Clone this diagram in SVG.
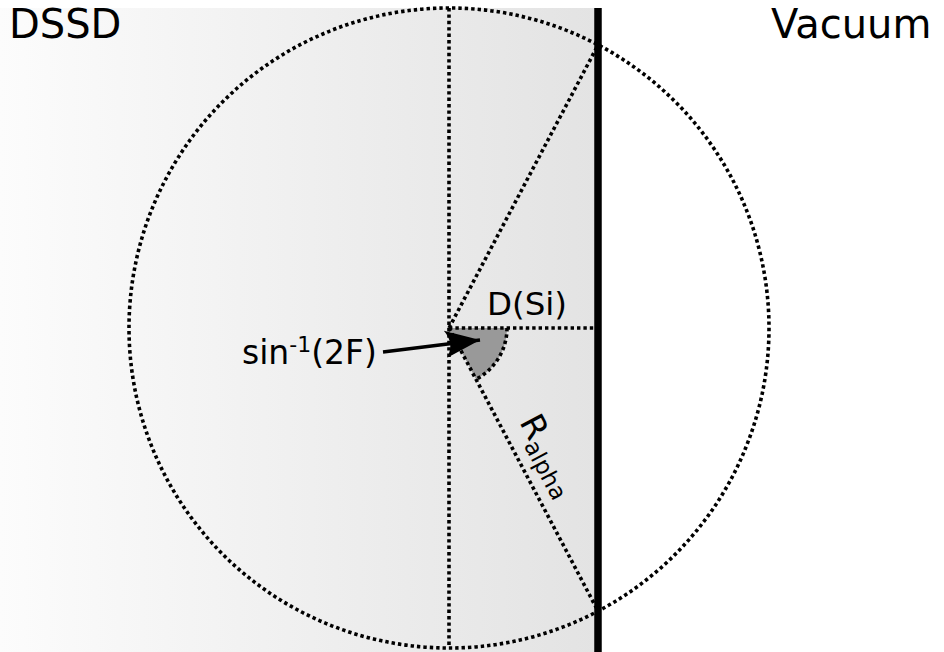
<svg xmlns="http://www.w3.org/2000/svg" width="944" height="652" viewBox="0 0 944 652">
  <defs>
    <linearGradient id="bg" x1="0" y1="0" x2="1" y2="0">
      <stop offset="0" stop-color="#fcfcfc"/>
      <stop offset="1" stop-color="#e3e3e3"/>
    </linearGradient>
    <marker id="arrow" markerUnits="userSpaceOnUse" markerWidth="40" markerHeight="32" viewBox="-36 -15 38 30" refX="0" refY="0" orient="auto">
      <path d="M0,0 L-33,-13 C-27,-4 -27,4 -33,13 Z" fill="#000"/>
    </marker>
    <style>
      .dot { fill: none; stroke: #000; stroke-width: 3.6; stroke-dasharray: 3.4 3; }
      .lbl { font-family: "DejaVu Sans", "Liberation Sans", sans-serif; fill: #000; }
    </style>
  </defs>
  <rect width="944" height="652" fill="#fff"/>
  <g id="silicon">
    <rect x="0" y="8" width="598" height="644" fill="url(#bg)"/>
  </g>
  <g id="sector">
    <path d="M449,328 L507,328 A58,58 0 0 1 476.05,379.3 Z" fill="#999"/>
    <path class="dot" d="M507,328 A58,58 0 0 1 476.05,379.3"/>
  </g>
  <g id="circle">
    <circle class="dot" cx="449" cy="328" r="320"/>
  </g>
  <g id="connectors">
    <line class="dot" x1="449" y1="8" x2="449" y2="648"/>
    <line class="dot" x1="449" y1="328" x2="598" y2="328"/>
    <line class="dot" x1="449" y1="328" x2="598" y2="45"/>
    <line class="dot" x1="449" y1="328" x2="598" y2="611"/>
    <line x1="383" y1="352" x2="480" y2="340" stroke="#000" stroke-width="3.4" marker-end="url(#arrow)"/>
  </g>
  <g id="surface">
    <line x1="598" y1="8" x2="598" y2="652" stroke="#000" stroke-width="7.5"/>
  </g>
  <g id="labels">
    <text class="lbl" x="9" y="37.5" font-size="40">DSSD</text>
    <text class="lbl" x="771" y="37.5" font-size="40">Vacuum</text>
    <text class="lbl" x="487" y="315" font-size="32.5">D(Si)</text>
    <text class="lbl" x="242" y="364" font-size="33">sin<tspan font-size="22" dy="-12">-1</tspan><tspan dy="12">(2F)</tspan></text>
    <text class="lbl" font-size="33" transform="translate(519,422) rotate(62)">R<tspan font-size="23" dy="7">alpha</tspan></text>
  </g>
</svg>
